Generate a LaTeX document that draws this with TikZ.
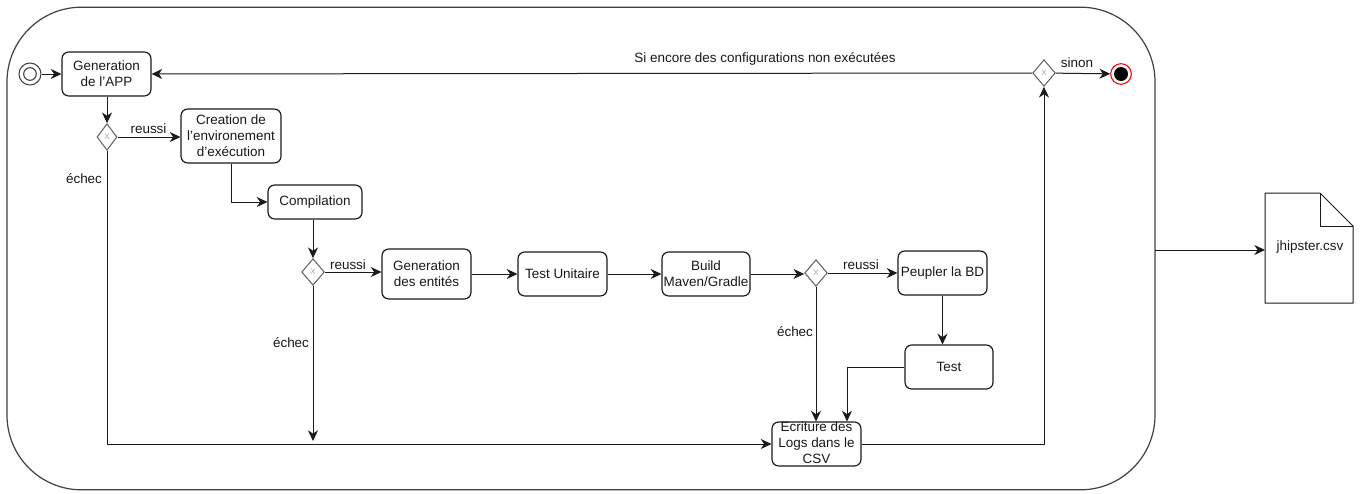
\documentclass[tikz,border=0pt]{standalone}
\usepackage{fontspec}
\setmainfont{Liberation Sans}
\usetikzlibrary{arrows.meta,shapes.geometric,calc}
\definecolor{edge}{HTML}{1A1A1A}
\tikzset{
  x=0.75pt,y=-0.75pt,
  every node/.style={font=\fontsize{10.1}{12}\selectfont,text=black!90},
  act/.style={draw=edge,line width=0.85pt,rounded corners=5pt,align=center,inner sep=0pt,fill=white},
  gw/.style={draw=black!60,line width=0.8pt,diamond,aspect=0.85,minimum width=17pt,minimum height=20pt,inner sep=0pt,fill=white},
  gwmark/.style={font=\fontsize{6}{6}\selectfont,text=black!35,inner sep=0pt},
  conn/.style={draw=edge,line width=0.75pt,-{Stealth[length=8pt,width=7.5pt,inset=2.5pt]}},
  lbl/.style={inner sep=1pt}
}
\begin{document}
\begin{tikzpicture}
\useasboundingbox (0,0) rectangle (1364,493);
\node[draw=black!75,line width=0.9pt,rounded corners=56pt,minimum width=861pt,minimum height=362pt,inner sep=0pt] (frame) at (581,248.5) {};

\node[act,minimum width=66.75pt,minimum height=33pt] (gen) at (106.5,74) {Generation\\de l'APP};
\node[gw,aspect=0.75,minimum width=15pt] (g1) at (107,137) {};
\node[gwmark] at (g1) {X};
\node[act,minimum width=75pt,minimum height=40.5pt] (crea) at (231,136) {Creation de\\l'environement\\d'exécution};
\node[act,minimum width=70.5pt,minimum height=25.5pt] (comp) at (315,202) {Compilation};
\node[gw] (g2) at (313,272) {};
\node[gwmark] at (g2) {X};
\node[act,minimum width=66.75pt,minimum height=37.5pt] (ent) at (426.5,274) {Generation\\des entités};
\node[act,minimum width=66.75pt,minimum height=33pt] (unit) at (562.5,274) {Test Unitaire};
\node[act,minimum width=66pt,minimum height=33pt] (build) at (706,274) {Build\\Maven/Gradle};
\node[gw] (g3) at (816,273) {};
\node[gwmark] at (g3) {X};
\node[act,minimum width=66.75pt,minimum height=33pt] (peup) at (942.5,273) {Peupler la BD};
\node[act,minimum width=66pt,minimum height=33pt] (test) at (949,367) {Test};
\node[act,minimum width=66.75pt,minimum height=33pt] (log) at (816.5,444) {};
\node[gw] (gt) at (1044,73) {};
\node[gwmark] at (gt) {X};

% start and end events
\node[circle,draw=black!75,line width=0.8pt,minimum size=16.5pt,inner sep=0pt] (start) at (30,74) {};
\node[circle,draw=black!75,line width=0.8pt,minimum size=9.5pt,inner sep=0pt] (starti) at (start) {};
\node[circle,draw=red,line width=0.8pt,fill=white,minimum size=15.5pt,inner sep=0pt] (end) at (1121,74) {};
\node[circle,fill=black,minimum size=10.5pt,inner sep=0pt] (endi) at (end) {};

% document
\draw[draw=edge,line width=0.75pt,fill=white] (1265,193) -- (1320,193) -- (1353,226) -- (1353,303) -- (1265,303) -- cycle;
\draw[draw=edge,line width=0.75pt] (1320,193) -- (1320,226) -- (1353,226);
\node (docl) at (1310,247) {jhipster.csv};
\coordinate (docw) at (1265,250);
\coordinate (framee) at (1155,250);

% connectors
\draw[conn] (start) -- (gen);
\draw[conn] (gt) -- (gen);
\draw[conn] (gen.south -| g1) -- (g1);
\draw[conn] (g1) -- (crea.west |- g1);
\draw[conn] (crea.south) |- (comp.west);
\draw[conn] (comp.south -| g2) -- (g2);
\draw[conn] (g2) -- (ent.west |- g2);
\draw[conn] (ent.east) -- (unit.west);
\draw[conn] (unit.east) -- (build.west);
\draw[conn] (build.east) -- (g3.west |- build.east);
\draw[conn] (g3) -- (peup.west |- g3);
\draw[conn] (peup) -- (test.north -| peup);
\draw[conn] (g3) -- (log.north -| g3);
\draw[conn] (test.west) -| ($(log.north)+(30.5,0)$);
\draw[conn] (g1) |- (log.west);
\coordinate (g2end) at (313,441);
\draw[conn] (g2) -- (g2end);
\draw[conn] (log.east) -| (gt);
\draw[conn] (gt) -- (end);
\draw[conn] (framee) -- (docw);

% text of the log box, which overflows it
\node[align=center,inner sep=0pt] (logt) at (816.5,443) {Ecriture des\\Logs dans le\\CSV};

% labels
\node[lbl] (l1) at (148.5,129) {reussi};
\node[lbl] (l2) at (84,179) {échec};
\node[lbl] (l3) at (348,265) {reussi};
\node[lbl] (l4) at (291,343) {échec};
\node[lbl] (l5) at (861,265) {reussi};
\node[lbl] (l6) at (795,332) {échec};
\node[lbl] (l7) at (1077,63) {sinon};
\node[lbl] (l8) at (765,59) {Si encore des configurations non exécutées};
\end{tikzpicture}
\end{document}
